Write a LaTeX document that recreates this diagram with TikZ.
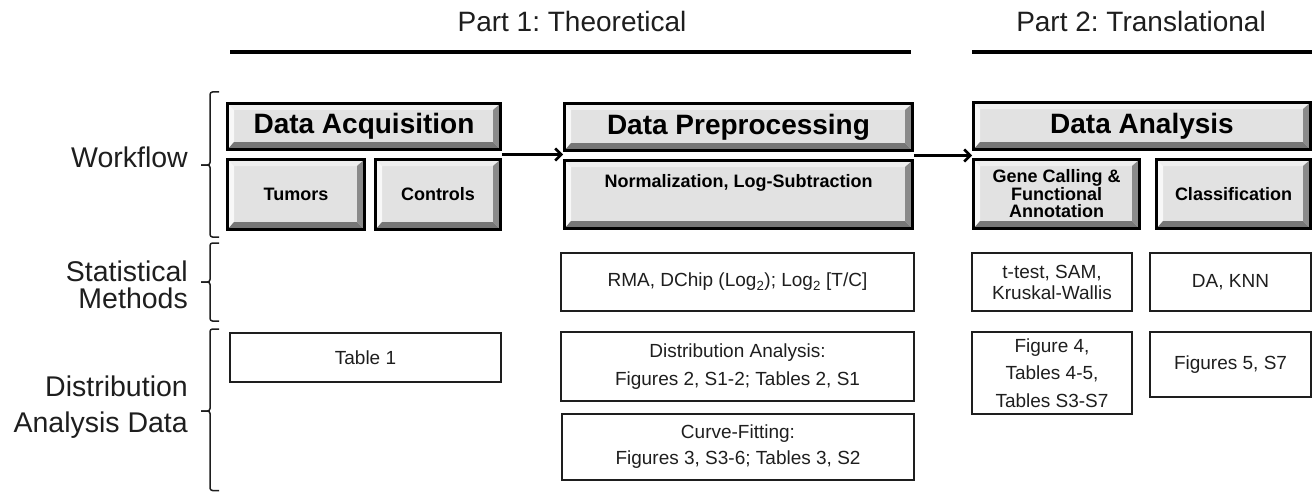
\documentclass[tikz,border=0pt]{standalone}
\usepackage{fontspec}
\setmainfont{Liberation Sans}
\frenchspacing
\usetikzlibrary{arrows.meta,calc}
\definecolor{bface}{HTML}{E2E2E2}
\definecolor{blight}{HTML}{EFEFEF}
\definecolor{bleft}{HTML}{F8F8F8}
\definecolor{bdark}{HTML}{767676}
\definecolor{bdarkr}{HTML}{8A8A8A}
\definecolor{ink}{HTML}{1E1E1E}
\newcommand{\drawbracket}[3]{%
  \draw[brc] (219,#1) -- (210,#1) -- (210,#2) -- (201,#2);
  \draw[brc] (201,#2) -- (210,#2) -- (210,#3) -- (219,#3);}
\begin{document}
\begin{tikzpicture}[x=1pt,y=-1pt,
  bev/.style={draw=black, line width=3pt, fill=bface, inner sep=0pt, align=center,
    path picture={
      \coordinate (pnw) at (path picture bounding box.north west);
      \coordinate (pne) at (path picture bounding box.north east);
      \coordinate (psw) at (path picture bounding box.south west);
      \coordinate (pse) at (path picture bounding box.south east);
      \fill[blight] (pnw) -- (pne) -- ([shift={(-7.5pt,-6.5pt)}]pne) -- ([shift={(6.5pt,-6.5pt)}]pnw) -- cycle;
      \fill[bleft] (pnw) -- (psw) -- ([shift={(6.5pt,7.5pt)}]psw) -- ([shift={(6.5pt,-6.5pt)}]pnw) -- cycle;
      \fill[bdark] (psw) -- (pse) -- ([shift={(-7.5pt,7.5pt)}]pse) -- ([shift={(6.5pt,7.5pt)}]psw) -- cycle;
      \fill[bdarkr] (pne) -- (pse) -- ([shift={(-7.5pt,7.5pt)}]pse) -- ([shift={(-7.5pt,-6.5pt)}]pne) -- cycle;
    }},
  bigbev/.style={bev, font=\bfseries\fontsize{28}{30}\selectfont},
  smallbev/.style={bev, font=\bfseries\fontsize{18}{17.5}\selectfont},
  pbox/.style={draw=ink, line width=1.5pt, inner sep=0pt, align=center, text=ink,
    font=\fontsize{19}{27.5}\selectfont},
  lab/.style={anchor=east, align=right, text=ink, inner sep=0pt},
  ttl/.style={anchor=base, text=ink, inner sep=0pt, font=\fontsize{28}{30}\selectfont},
  brc/.style={draw=ink, line width=1.5pt, rounded corners=2.5pt},
  arr/.style={draw=black, line width=2.5pt, -{Straight Barb[length=6pt,width=12pt]}},
  rule/.style={draw=black, line width=4pt}
]
\useasboundingbox (0,0) rectangle (1313,492);

% titles and rules
\node[ttl] (p1) at (572,32) {Part 1: Theoretical};
\node[ttl] (p2) at (1141,32) {Part 2: Translational};
\coordinate (r1a) at (230,52);
\coordinate (r1b) at (911,52);
\coordinate (r2a) at (972,52);
\coordinate (r2b) at (1312,52);
\draw[rule] (r1a) -- (r1b);
\draw[rule] (r2a) -- (r2b);

% row labels
\node[lab, font=\fontsize{28.5}{30}\selectfont] (wf) at (188,157.6) {Workflow};
\node[lab, font=\fontsize{28.5}{27}\selectfont] (sm) at (188,284.5) {Statistical\\Methods};
\node[lab, font=\fontsize{28.5}{36}\selectfont] (dad) at (188,407.5) {Distribution\\Analysis Data};

% brackets
\drawbracket{92}{165}{237}
\drawbracket{243}{282}{321}
\drawbracket{329}{411}{490.5}

% workflow boxes
\node[bigbev, minimum width=273pt, minimum height=46pt] (daq) at (364,126.5) {Data Acquisition};
\node[smallbev, minimum width=137pt, minimum height=70pt] (tum) at (296,194.5) {Tumors};
\node[smallbev, minimum width=125pt, minimum height=70pt] (ctl) at (438,194.5) {Controls};
\node[bigbev, minimum width=348pt, minimum height=47pt] (dpre) at (738.5,127) {Data Preprocessing};
\node[smallbev, font=\bfseries\fontsize{18}{27}\selectfont, minimum width=348pt, minimum height=68pt] (norm) at (738.5,194.5) {Normalization, Log-Subtraction\\\mbox{}};
\node[bigbev, minimum width=337pt, minimum height=47pt] (dan) at (1142,126) {Data Analysis};
\node[smallbev, minimum width=166pt, minimum height=69pt] (gene) at (1056.5,194) {Gene Calling \&\\Functional\\Annotation};
\node[smallbev, minimum width=154pt, minimum height=69pt] (cls) at (1233.5,194) {Classification};

% arrows
\coordinate (a1) at ($(daq.south east)!0.5!(ctl.north east)$);
\coordinate (a2) at ($(dpre.south east)!0.5!(norm.north east)$);
\draw[arr] (a1) -- (a1 -| dpre.west);
\draw[arr] (a2) -- (a2 -| dan.west);

% statistical methods
\node[pbox, minimum width=353pt, minimum height=58pt] (rma) at (737.5,282) {RMA, DChip (Log\textsubscript{2}); Log\textsubscript{2} [T/C]};
\node[pbox, font=\fontsize{19}{21}\selectfont, minimum width=160pt, minimum height=58pt] (tt) at (1052,282) {t-test, SAM,\\Kruskal-Wallis};
\node[pbox, minimum width=161pt, minimum height=58pt] (knn) at (1230.5,282) {DA, KNN};

% distribution analysis data
\node[pbox, minimum width=271pt, minimum height=49pt] (t1) at (365.5,357.5) {Table 1};
\node[pbox, minimum width=353pt, minimum height=69pt] (dist) at (737.5,366.5) {Distribution Analysis:\\Figures 2, S1-2; Tables 2, S1};
\node[pbox, font=\fontsize{19}{26}\selectfont, minimum width=352pt, minimum height=66pt] (cf) at (738,447) {Curve-Fitting:\\Figures 3, S3-6; Tables 3, S2};
\node[pbox, minimum width=160pt, minimum height=82pt] (f4) at (1052,373) {Figure 4,\\Tables 4-5,\\Tables S3-S7};
\node[pbox, minimum width=161pt, minimum height=65pt] (f5) at (1230.5,364.5) {Figures 5, S7};
\end{tikzpicture}
\end{document}
